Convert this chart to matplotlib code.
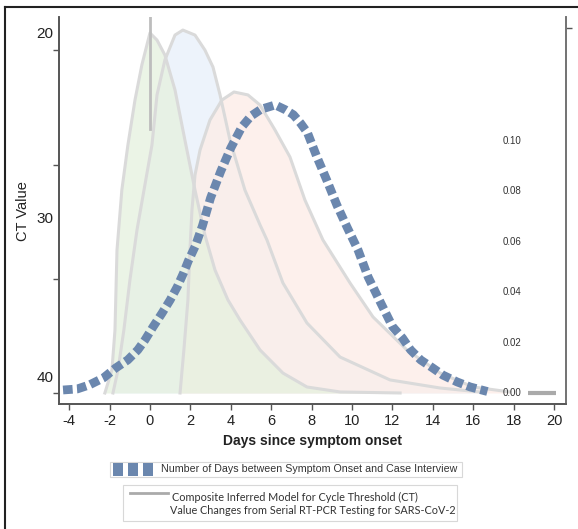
import matplotlib
matplotlib.use("Agg")
import matplotlib.pyplot as plt
from matplotlib.patches import Rectangle
from matplotlib.lines import Line2D
from matplotlib.ticker import FixedLocator, FixedFormatter, NullFormatter

plt.rcParams['axes.unicode_minus'] = False
plt.rcParams['font.family'] = ['Liberation Sans', 'DejaVu Sans']

# ---------------- data ----------------
# Composite CT-value curves: (day since onset, CT value)
green_day = [-2.23, -1.88, -1.73, -1.63, -1.39, -1.09, -0.74, -0.40, 0.0, 0.35, 0.74, 1.24,
             1.73, 2.23, 2.72, 3.22, 3.86, 4.46, 5.45, 6.58, 7.77, 9.41, 12.38]
green_ct = [40.93, 39.59, 37.27, 32.62, 29.13, 26.51, 23.90, 21.86, 20.0, 20.41, 21.28, 23.31,
            26.22, 29.13, 31.74, 33.78, 35.52, 36.69, 38.43, 39.77, 40.58, 40.87, 40.93]

blue_day = [-1.83, -1.58, -1.29, -0.99, -0.64, -0.25, 0.10, 0.35, 0.74, 1.24, 1.63, 2.23, 2.72,
            3.12, 3.47, 3.96, 4.70, 5.45, 5.79, 6.58, 7.77, 9.41, 11.88, 14.36, 16.34]
blue_ct = [40.93, 39.59, 37.27, 34.36, 31.45, 28.84, 26.51, 23.60, 21.57, 20.12, 19.83, 20.12, 20.99,
           21.98, 23.60, 26.22, 29.13, 31.16, 32.03, 34.53, 36.86, 38.84, 40.17, 40.64, 40.87]

red_day = [1.49, 1.68, 1.88, 1.98, 2.08, 2.23, 2.48, 2.97, 3.56, 4.16, 4.85, 5.45, 6.19, 6.93,
           7.67, 8.56, 9.90, 11.04, 12.72, 14.36, 15.99, 17.82]
red_ct = [40.93, 38.43, 35.52, 32.62, 30.29, 28.26, 26.80, 25.06, 23.90, 23.43, 23.60, 24.19, 25.64, 27.21,
          29.71, 32.03, 34.53, 36.51, 38.43, 39.77, 40.58, 40.87]

# Distribution of days between symptom onset and case interview (density)
interview_day = [-4.3, -3.6, -3.0, -2.3, -1.7, -1.1, -0.6, -0.25, 0.15, 0.6, 1.0, 1.35, 1.65, 1.9,
                 2.25, 2.6, 3.0, 3.5, 4.0, 4.55, 5.0, 5.5, 6.2, 6.7, 7.1, 7.45, 7.8, 8.25, 8.75,
                 9.25, 9.75, 10.3, 10.8, 11.4, 12.0, 12.5, 12.9, 13.4, 14.0, 14.5, 15.2, 15.85, 16.7]
interview_density = [0.0008, 0.0012, 0.0028, 0.0056, 0.0095, 0.0127, 0.0167, 0.0206, 0.0258, 0.0313,
                     0.0365, 0.0417, 0.0470, 0.0520, 0.0580, 0.0660, 0.0770, 0.0875, 0.0968, 0.1052,
                     0.1095, 0.1122, 0.1139, 0.1120, 0.1100, 0.1067, 0.1028, 0.0935, 0.0841, 0.0742,
                     0.0655, 0.0563, 0.0456, 0.0357, 0.0260, 0.0214, 0.0167, 0.0127, 0.0095, 0.0067,
                     0.0040, 0.0020, 0.0002]

onset_day = 0
x_ticks = list(range(-4, 21, 2))
ct_label_pos = [20, 30.7, 40]
ct_labels = ['20', '30', '40']
ct_minor_ticks = [20.99, 27.67, 34.30, 40.93]
dens_ticks = [0.00, 0.02, 0.04, 0.06, 0.08, 0.10]
dens_labels = ['0.00', '0.02', '0.04', '0.06', '0.08', '0.10']
dens_minor_ticks = [0.0, 0.1444]

legend1_text = 'Number of Days between Symptom Onset and Case Interview'
legend2_lines = ['Composite Inferred Model for Cycle Threshold (CT)',
                 'Value Changes from Serial RT-PCR Testing for SARS-CoV-2']

# ---------------- figure ----------------
W, H = 578, 529
fig = plt.figure(figsize=(W / 100, H / 100), dpi=100)


def fx(px):
    return px / W


def fy(py):
    return 1 - py / H


ax = fig.add_axes([fx(59), fy(404), fx(566) - fx(59), fy(17) - fy(404)])
ax2 = ax.twinx()

spine_col = '#555555'
line_col = '#dadada'

for d, c, fc, a in [(blue_day, blue_ct, '#eaf2fb', 0.85),
                    (red_day, red_ct, '#fdede8', 0.80),
                    (green_day, green_ct, '#e5f1de', 0.75)]:
    ax.fill_between(d, c, max(c), color=fc, alpha=a, lw=0)
for d, c in [(red_day, red_ct), (blue_day, blue_ct), (green_day, green_ct)]:
    ax.plot(d, c, color=line_col, lw=2.2, solid_joinstyle='round')

ax.axvline(onset_day, ymin=0.71, ymax=1.0, color='#bdbdbd', lw=2.0)

ax.set_xlim(-4.5, 20.59)
ax.set_ylim(41.57, 19.07)
ax.set_xticks(x_ticks)
ax.tick_params(axis='x', length=4, width=1, color=spine_col, labelsize=10.5, pad=3, labelcolor='#222')
ax.yaxis.set_major_locator(FixedLocator(ct_label_pos))
ax.yaxis.set_major_formatter(FixedFormatter(ct_labels))
ax.yaxis.set_minor_locator(FixedLocator(ct_minor_ticks))
ax.yaxis.set_minor_formatter(NullFormatter())
ax.tick_params(axis='y', which='major', length=0, labelsize=11, pad=4, labelcolor='#222')
ax.tick_params(axis='y', which='minor', length=4, width=1, color=spine_col)

# density axis
ax2.plot(interview_day, interview_density, color='#6b87ae', lw=6.3,
         dashes=(1.1, 0.5), dash_capstyle='butt', solid_capstyle='butt')
ax2.set_ylim(-0.00476, 0.1488)
ax2.yaxis.set_major_locator(FixedLocator(dens_ticks))
ax2.yaxis.set_major_formatter(FixedFormatter(dens_labels))
ax2.yaxis.set_minor_locator(FixedLocator(dens_minor_ticks))
ax2.yaxis.set_minor_formatter(NullFormatter())
ax2.tick_params(axis='y', which='major', length=0, labelsize=7, pad=-45.4, labelcolor='#333')
ax2.tick_params(axis='y', which='minor', length=4, width=1, color=spine_col)
ax2.plot([0.925, 0.980], [0.028, 0.028], transform=ax2.transAxes, color='#aaaaaa', lw=3,
         solid_capstyle='butt', clip_on=False)

for a in (ax, ax2):
    a.spines['top'].set_visible(False)
    for s in ('left', 'bottom', 'right'):
        a.spines[s].set_color(spine_col)
        a.spines[s].set_linewidth(1.2)
ax2.spines['right'].set_color('#777777')

fig.text(fx(312), fy(441), 'Days since symptom onset', ha='center', va='center',
         fontsize=10, fontweight='bold', color='#222')
fig.text(fx(23), fy(211), 'CT Value', ha='center', va='center', rotation=90,
         fontsize=10.5, color='#222')

# outer frame
fig.add_artist(Line2D([fx(5), 1], [fy(7), fy(7)], color='#222222', lw=1.5))
fig.add_artist(Line2D([fx(5), fx(5)], [fy(7), 0], color='#222222', lw=1.5))

# legend 1
fig.add_artist(Rectangle((fx(110), fy(477)), fx(462) - fx(110), fy(462) - fy(477),
                         transform=fig.transFigure, facecolor='white', edgecolor='#d8d8d8', lw=0.8))
for x0 in (113, 128, 143):
    fig.add_artist(Rectangle((fx(x0), fy(476)), fx(10), fy(463) - fy(476),
                             transform=fig.transFigure, facecolor='#6b87ae', edgecolor='none'))
fig.text(fx(161), fy(469.5), legend1_text, ha='left', va='center', fontsize=7.7, color='#333')

# legend 2
fig.add_artist(Rectangle((fx(123), fy(521)), fx(457) - fx(123), fy(485) - fy(521),
                         transform=fig.transFigure, facecolor='white', edgecolor='#d8d8d8', lw=0.8))
fig.add_artist(Line2D([fx(130), fx(168)], [fy(493), fy(493)], color='#aaaaaa', lw=2))
fig.text(fx(172), fy(497), legend2_lines[0], ha='left', va='center', fontsize=7.8,
         color='#333', family=['Lato', 'DejaVu Sans'])
fig.text(fx(170), fy(511), legend2_lines[1], ha='left', va='center', fontsize=7.8,
         color='#333', family=['Lato', 'DejaVu Sans'])

fig.savefig('out.png', dpi=100)
